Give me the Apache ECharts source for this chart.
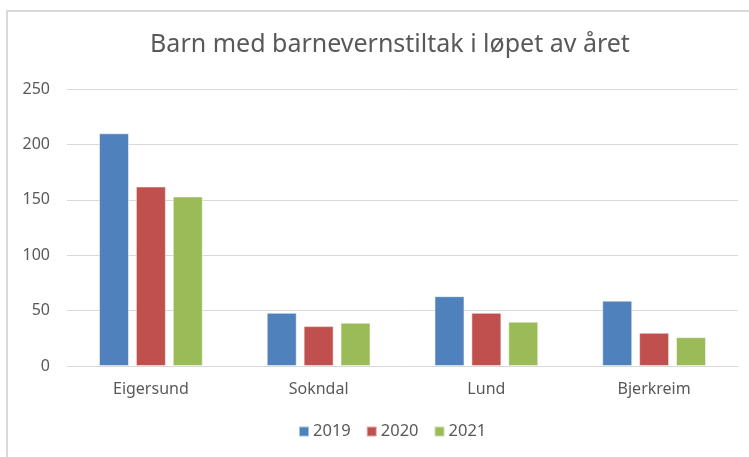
<!DOCTYPE html>
<html>
<head>
<meta charset="utf-8">
<script src="https://cdn.jsdelivr.net/npm/echarts@6/dist/echarts.min.js"></script>
<style>
  html, body { margin: 0; padding: 0; background: #fff; }
  #chart { width: 749px; height: 457px; }
</style>
</head>
<body>
<div id="chart"></div>
<script>
// Municipalities and yearly counts of children with child-welfare measures
const kommuner = ['Eigersund', 'Sokndal', 'Lund', 'Bjerkreim'];
const aar2019 = [210, 48, 63, 59];
const aar2020 = [162, 36, 48, 30];
const aar2021 = [153, 39, 40, 26];
const seriesNames = ['2019', '2020', '2021'];
const seriesColors = ['#4f81bd', '#c0504d', '#9bbb59'];

const font = 'Noto Sans, sans-serif';
const chart = echarts.init(document.getElementById('chart'), null, { renderer: 'canvas' });

const makeSeries = (name, data, color) => ({
  name: name,
  type: 'bar',
  data: data,
  barWidth: 30,
  barGap: '23%',
  itemStyle: { color: color, borderColor: 'rgba(255,255,255,0.5)', borderWidth: 1 }
});

chart.setOption({
  animation: false,
  title: {
    text: 'Barn med barnevernstiltak i løpet av året',
    left: 385,
    textAlign: 'center',
    top: 27,
    textStyle: { fontFamily: font, fontSize: 25, fontWeight: 'normal', color: '#595959' }
  },
  graphic: [
    {
      type: 'polyline',
      shape: { points: [[7, 457], [7, 11], [749, 11]] },
      style: { stroke: '#d9d9d9', lineWidth: 2, fill: null },
      silent: true
    }
  ],
  legend: {
    data: seriesNames,
    bottom: 12,
    left: 293,
    itemWidth: 10,
    itemHeight: 10,
    itemGap: 15,
    icon: 'rect',
    textStyle: { fontFamily: font, fontSize: 16.5, color: '#595959', padding: [0, 0, 0, -1] }
  },
  grid: { left: 67, right: 11, top: 89, bottom: 91 },
  xAxis: {
    type: 'category',
    data: kommuner,
    axisLine: { lineStyle: { color: '#d9d9d9', width: 1 } },
    axisTick: { show: false },
    axisLabel: { fontFamily: font, fontSize: 16, color: '#595959', margin: 15 }
  },
  yAxis: {
    type: 'value',
    min: 0,
    max: 250,
    interval: 50,
    axisLine: { show: false },
    axisTick: { show: false },
    splitLine: { lineStyle: { color: '#d9d9d9', width: 1 } },
    axisLabel: { fontFamily: font, fontSize: 16, color: '#595959', margin: 17 }
  },
  series: [
    makeSeries(seriesNames[0], aar2019, seriesColors[0]),
    makeSeries(seriesNames[1], aar2020, seriesColors[1]),
    makeSeries(seriesNames[2], aar2021, seriesColors[2])
  ]
});
</script>
</body>
</html>
